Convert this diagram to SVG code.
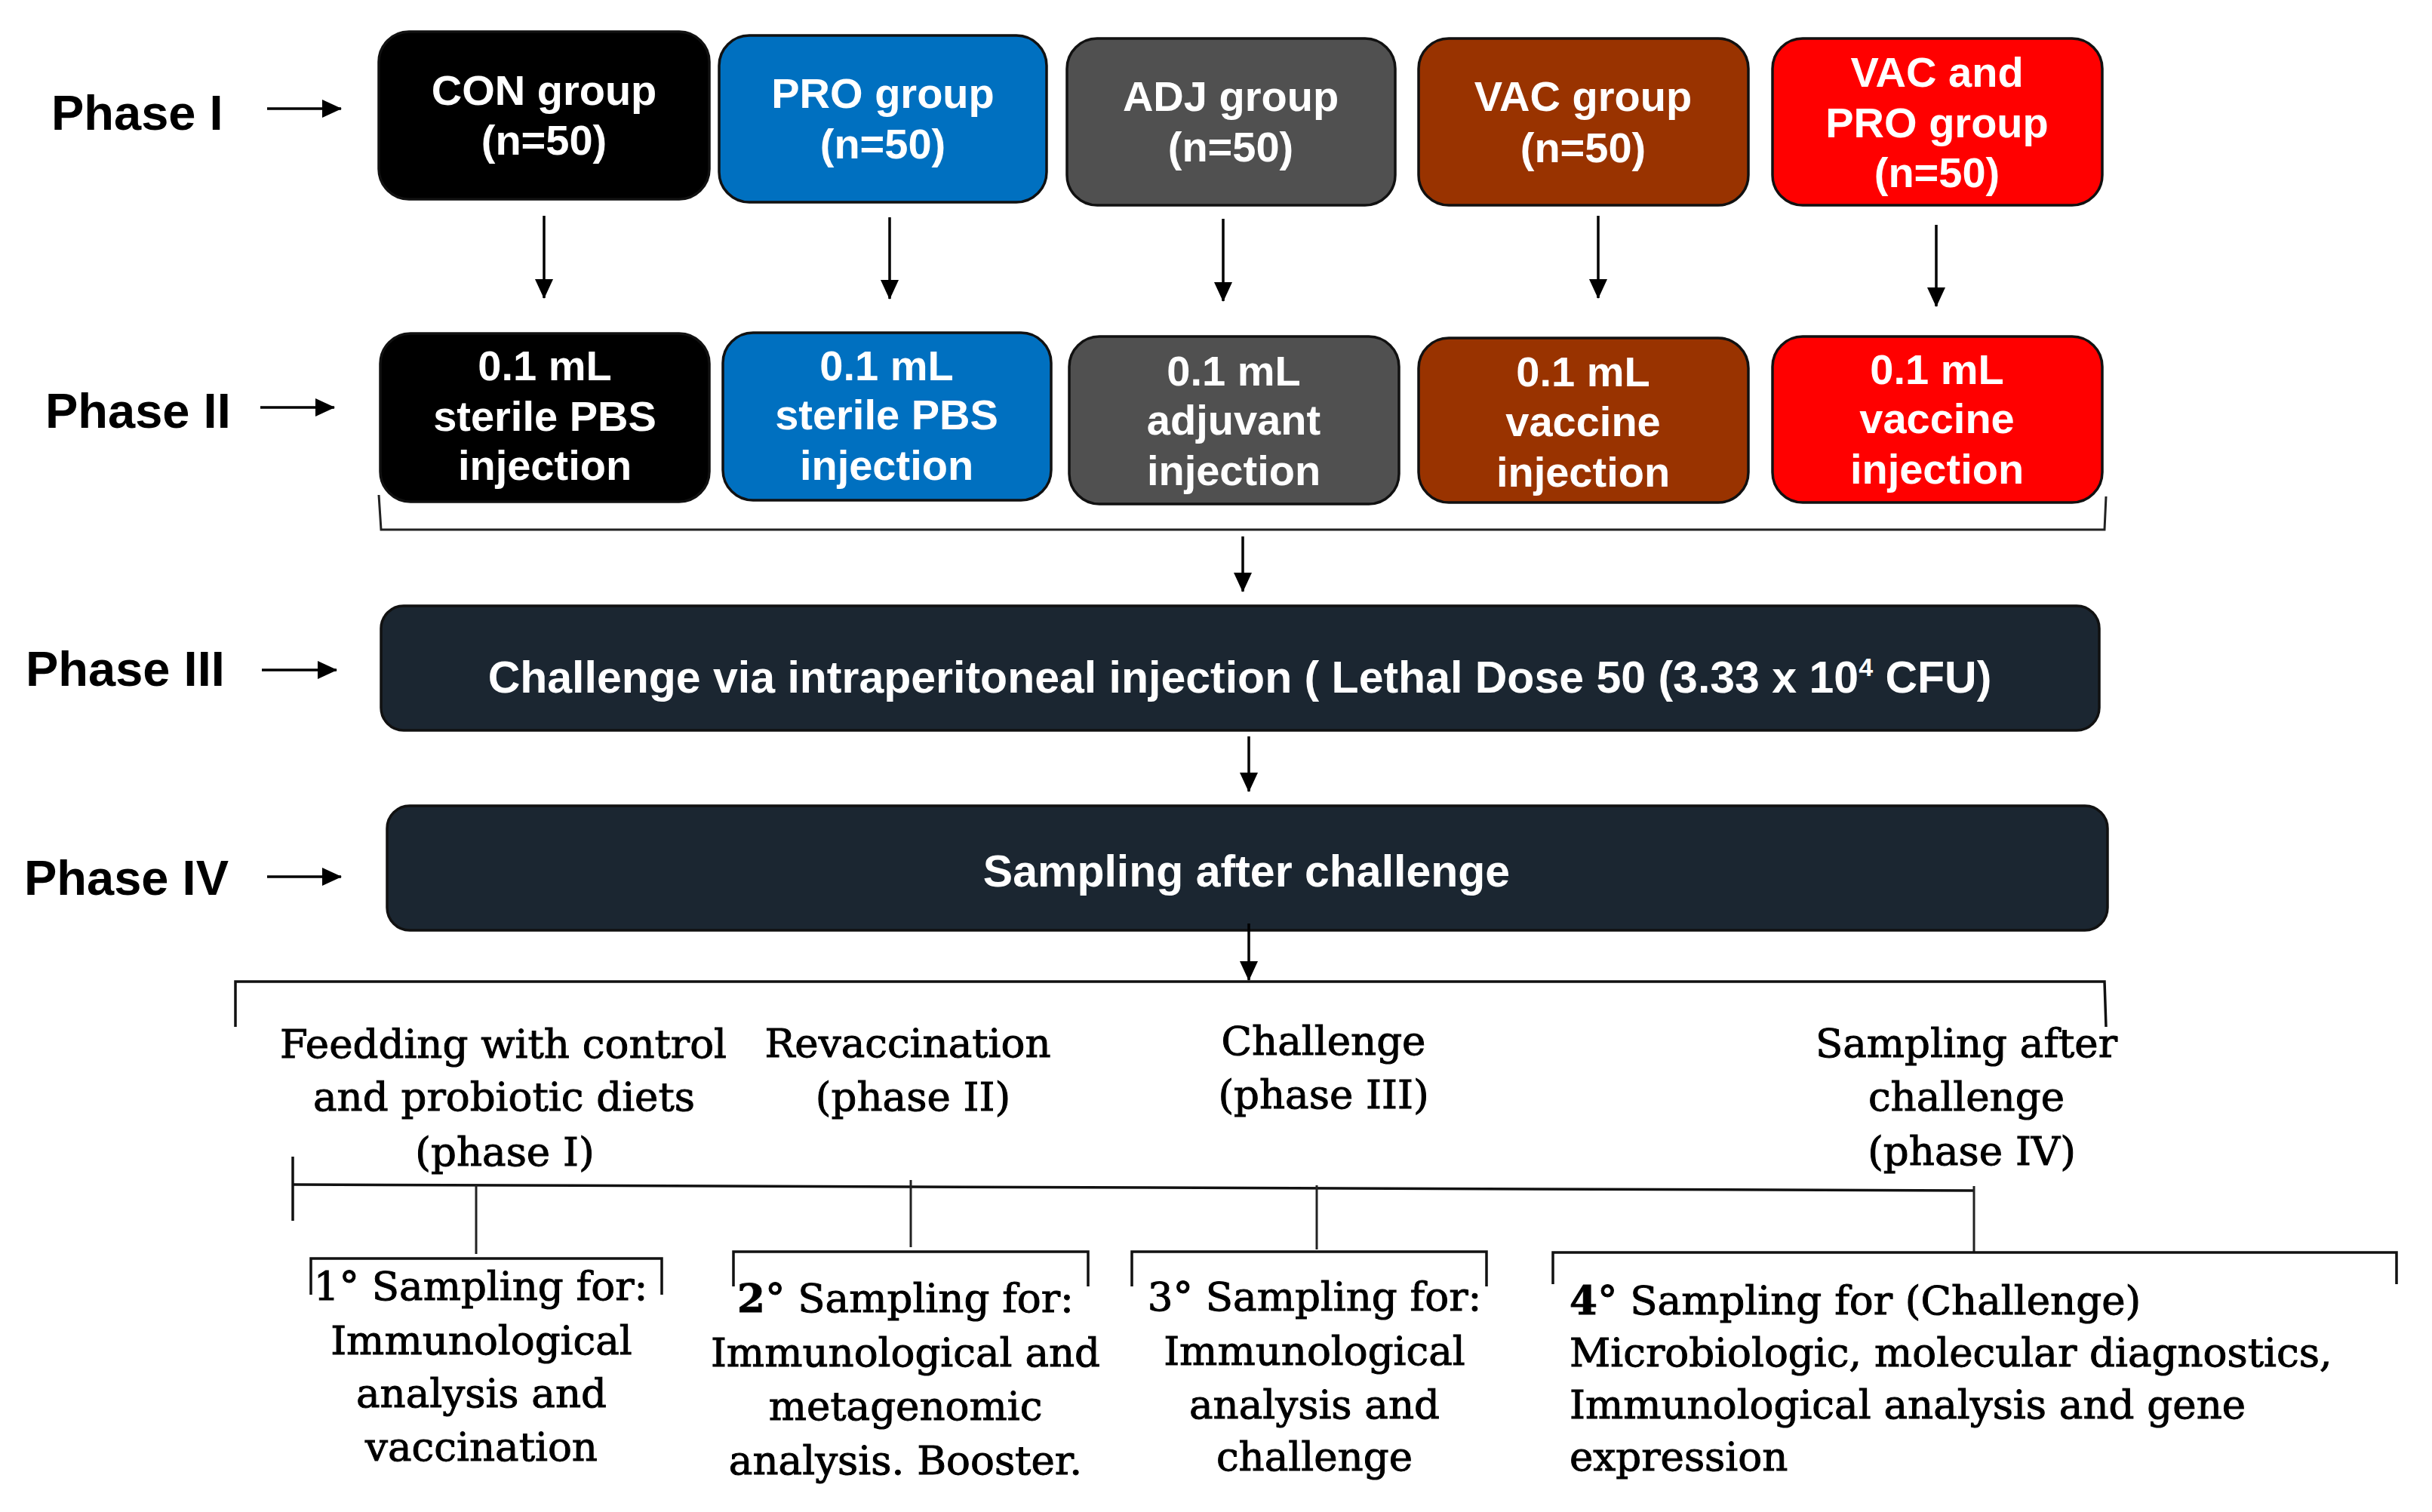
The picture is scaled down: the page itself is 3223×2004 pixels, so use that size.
<svg xmlns="http://www.w3.org/2000/svg" width="3223" height="2004" viewBox="0 0 3223 2004">
<defs>
<marker id="ah" markerUnits="userSpaceOnUse" markerWidth="26" markerHeight="24" refX="25" refY="12" orient="auto">
<path d="M0,0 L26,12 L0,24 z" fill="#000"/>
</marker>
<style>
.box{stroke:#111;stroke-width:3.5}
.bt{font-family:"Liberation Sans",Arial,sans-serif;font-weight:bold;font-size:56px;fill:#fff;text-anchor:middle}
.wt{font-family:"Liberation Sans",Arial,sans-serif;font-weight:bold;font-size:59px;fill:#fff;text-anchor:middle}
.ph{font-family:"Liberation Sans",Arial,sans-serif;font-weight:bold;font-size:65px;fill:#000}
.st{font-family:"DejaVu Serif","Liberation Serif",serif;font-size:53px;fill:#000;stroke:#000;stroke-width:1;text-anchor:middle}
.sl{font-family:"DejaVu Serif","Liberation Serif",serif;font-size:53px;fill:#000;stroke:#000;stroke-width:1}
.arr{stroke:#000;stroke-width:3.5;fill:none;marker-end:url(#ah)}
.ln{stroke:#111;stroke-width:3.5;fill:none}
.ln2{stroke:#222;stroke-width:3;fill:none}
</style>
</defs>
<rect width="3223" height="2004" fill="#fff"/>

<g id="labels">
<text class="ph" x="68" y="172">Phase I</text>
<text class="ph" x="60" y="567">Phase II</text>
<text class="ph" x="34" y="909">Phase III</text>
<text class="ph" x="32" y="1186">Phase IV</text>
</g>

<g id="con1"><rect class="box" x="502" y="42" width="438" height="222" rx="40" fill="#000"/>
<text class="bt" x="721" y="139">CON group</text><text class="bt" x="721" y="205">(n=50)</text></g>
<g id="pro1"><rect class="box" x="953" y="47" width="434" height="221" rx="40" fill="#0070C0"/>
<text class="bt" x="1170" y="143">PRO group</text><text class="bt" x="1170" y="210">(n=50)</text></g>
<g id="adj1"><rect class="box" x="1414" y="51" width="435" height="221" rx="40" fill="#505050"/>
<text class="bt" x="1631" y="147">ADJ group</text><text class="bt" x="1631" y="214">(n=50)</text></g>
<g id="vac1"><rect class="box" x="1880" y="51" width="437" height="221" rx="40" fill="#993300"/>
<text class="bt" x="2098" y="147">VAC group</text><text class="bt" x="2098" y="215">(n=50)</text></g>
<g id="vacpro1"><rect class="box" x="2349" y="51" width="437" height="221" rx="40" fill="#FF0000"/>
<text class="bt" x="2567" y="115">VAC and</text><text class="bt" x="2567" y="182">PRO group</text><text class="bt" x="2567" y="248">(n=50)</text></g>

<g id="con2"><rect class="box" x="504" y="442" width="436" height="223" rx="40" fill="#000"/>
<text class="bt" x="722" y="504">0.1 mL</text><text class="bt" x="722" y="571">sterile PBS</text><text class="bt" x="722" y="636">injection</text></g>
<g id="pro2"><rect class="box" x="958" y="441" width="435" height="222" rx="40" fill="#0070C0"/>
<text class="bt" x="1175" y="504">0.1 mL</text><text class="bt" x="1175" y="569">sterile PBS</text><text class="bt" x="1175" y="636">injection</text></g>
<g id="adj2"><rect class="box" x="1417" y="446" width="437" height="222" rx="40" fill="#505050"/>
<text class="bt" x="1635" y="511">0.1 mL</text><text class="bt" x="1635" y="576">adjuvant</text><text class="bt" x="1635" y="643">injection</text></g>
<g id="vac2"><rect class="box" x="1880" y="448" width="437" height="218" rx="40" fill="#993300"/>
<text class="bt" x="2098" y="512">0.1 mL</text><text class="bt" x="2098" y="578">vaccine</text><text class="bt" x="2098" y="645">injection</text></g>
<g id="vacpro2"><rect class="box" x="2349" y="446" width="437" height="220" rx="40" fill="#FF0000"/>
<text class="bt" x="2567" y="509">0.1 mL</text><text class="bt" x="2567" y="574">vaccine</text><text class="bt" x="2567" y="641">injection</text></g>

<g id="phase3"><rect class="box" x="505" y="803" width="2277" height="165" rx="30" fill="#1B2631"/>
<text class="wt" x="1643" y="918">Challenge via intraperitoneal injection ( Lethal Dose 50 (3.33 x 10<tspan font-size="34" dy="-22">4</tspan><tspan dy="22"> CFU)</tspan></text></g>
<g id="phase4"><rect class="box" x="513" y="1068" width="2280" height="165" rx="30" fill="#1B2631"/>
<text class="wt" x="1652" y="1175">Sampling after challenge</text></g>

<g id="timeline-labels">
<text class="st" x="667" y="1402">Feedding with control</text>
<text class="st" x="668" y="1472">and probiotic diets</text>
<text class="st" x="669" y="1545">(phase I)</text>
<text class="st" x="1203" y="1401">Revaccination</text>
<text class="st" x="1210" y="1472">(phase II)</text>
<text class="st" x="1754" y="1398">Challenge</text>
<text class="st" x="1754" y="1469">(phase III)</text>
<text class="st" x="2606" y="1401">Sampling after</text>
<text class="st" x="2606" y="1472">challenge</text>
<text class="st" x="2613" y="1544">(phase IV)</text>
</g>

<g id="sampling1">
<text class="st" x="637" y="1723">1° Sampling for:</text>
<text class="st" x="638" y="1795">Immunological</text>
<text class="st" x="638" y="1865">analysis and</text>
<text class="st" x="638" y="1936">vaccination</text>
</g>
<g id="sampling2">
<text class="st" x="1200" y="1739"><tspan font-weight="bold">2</tspan>° Sampling for:</text>
<text class="st" x="1200" y="1811">Immunological and</text>
<text class="st" x="1200" y="1882">metagenomic</text>
<text class="st" x="1200" y="1954">analysis. Booster.</text>
</g>
<g id="sampling3">
<text class="st" x="1742" y="1737">3° Sampling for:</text>
<text class="st" x="1742" y="1809">Immunological</text>
<text class="st" x="1742" y="1880">analysis and</text>
<text class="st" x="1742" y="1949">challenge</text>
</g>
<g id="sampling4">
<text class="sl" x="2080" y="1742"><tspan font-weight="bold">4</tspan>° Sampling for (Challenge)</text>
<text class="sl" x="2080" y="1811">Microbiologic, molecular diagnostics,</text>
<text class="sl" x="2080" y="1880">Immunological analysis and gene</text>
<text class="sl" x="2080" y="1949">expression</text>
</g>

<g id="connectors">
<line class="arr" x1="354" y1="144" x2="452" y2="144"/>
<line class="arr" x1="345" y1="540" x2="443" y2="540"/>
<line class="arr" x1="347" y1="888" x2="446" y2="888"/>
<line class="arr" x1="354" y1="1162" x2="452" y2="1162"/>
<line class="arr" x1="721" y1="286" x2="721" y2="395"/>
<line class="arr" x1="1179" y1="288" x2="1179" y2="396"/>
<line class="arr" x1="1621" y1="290" x2="1621" y2="399"/>
<line class="arr" x1="2118" y1="286" x2="2118" y2="395"/>
<line class="arr" x1="2566" y1="298" x2="2566" y2="406"/>
<path class="ln2" d="M502,656 L505,702 L2789,702 L2791,658"/>
<line class="arr" x1="1647" y1="711" x2="1647" y2="784"/>
<line class="arr" x1="1655" y1="976" x2="1655" y2="1049"/>
<line class="arr" x1="1655" y1="1224" x2="1655" y2="1299"/>
<path class="ln" d="M312,1361 L312,1301 L2789,1301 L2791,1361"/>
<line class="ln" x1="388" y1="1570" x2="2616" y2="1578"/>
<line class="ln" x1="388" y1="1533" x2="388" y2="1618"/>
<line class="ln2" x1="631" y1="1571" x2="631" y2="1662"/>
<line class="ln2" x1="1207" y1="1564" x2="1207" y2="1653"/>
<line class="ln2" x1="1745" y1="1571" x2="1745" y2="1656"/>
<line class="ln2" x1="2616" y1="1572" x2="2616" y2="1660"/>
<path class="ln" d="M412,1716 L412,1668 L877,1668 L877,1716"/>
<path class="ln" d="M972,1705 L972,1659 L1442,1659 L1442,1705"/>
<path class="ln" d="M1500,1705 L1500,1659 L1970,1659 L1970,1705"/>
<path class="ln" d="M2058,1702 L2058,1660 L3176,1660 L3176,1702"/>
</g>
</svg>
